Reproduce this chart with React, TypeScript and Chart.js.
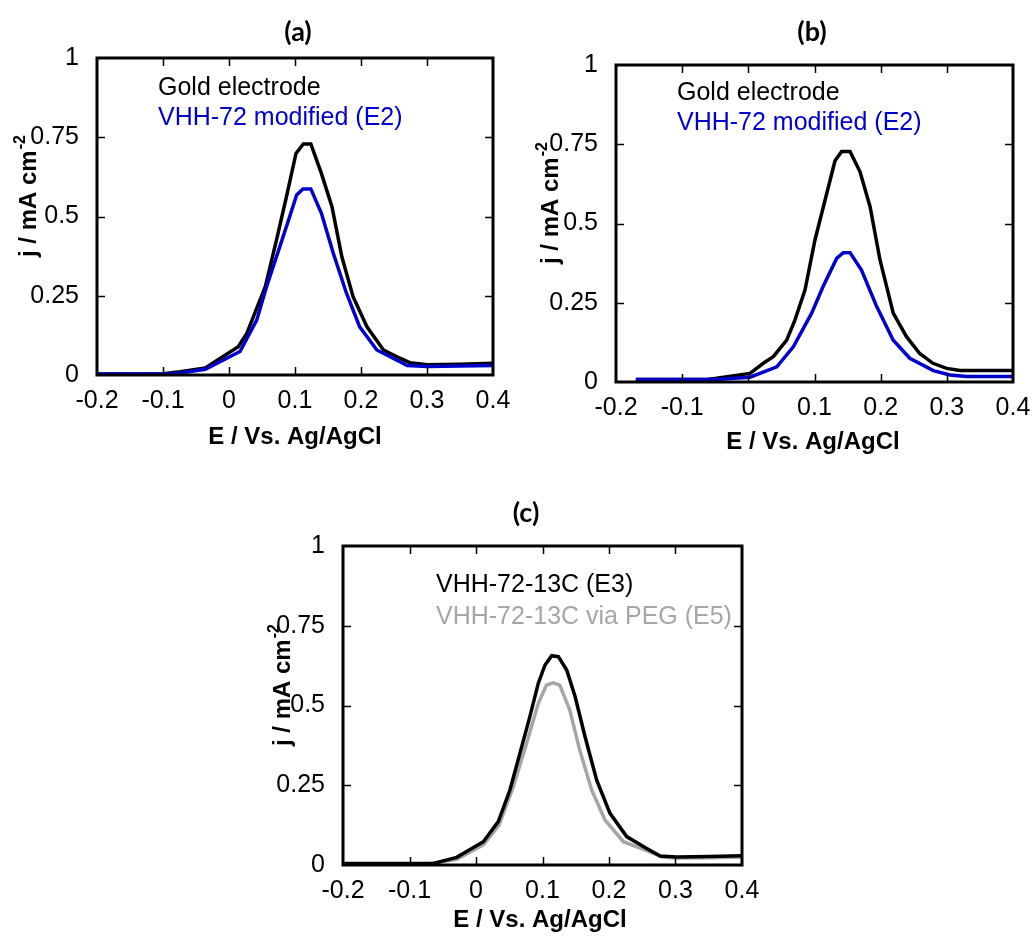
import React, { useEffect, useRef } from "react";
import { Chart, registerables } from "chart.js";

Chart.register(...registerables);

// ---------- data ----------
const xTickLabels = ["-0.2", "-0.1", "0", "0.1", "0.2", "0.3", "0.4"];
const yTickLabels = ["0", "0.25", "0.5", "0.75", "1"];

// Panel (a)
const aGoldE = [-0.2, -0.15, -0.1, -0.074, -0.036, 0.014, 0.027, 0.055, 0.072, 0.087, 0.1015, 0.1126, 0.124, 0.14, 0.156, 0.171, 0.188, 0.209, 0.234, 0.259, 0.274, 0.3, 0.35, 0.4];
const aGoldJ = [0.003, 0.003, 0.004, 0.01, 0.022, 0.089, 0.131, 0.279, 0.426, 0.562, 0.699, 0.729, 0.729, 0.636, 0.531, 0.373, 0.247, 0.152, 0.079, 0.053, 0.039, 0.032, 0.034, 0.037];
const aVhhE = [-0.2, -0.15, -0.1, -0.074, -0.036, 0.0167, 0.042, 0.057, 0.077, 0.092, 0.1025, 0.112, 0.124, 0.14, 0.158, 0.178, 0.198, 0.224, 0.259, 0.27, 0.3, 0.35, 0.4];
const aVhhJ = [0.003, 0.003, 0.003, 0.006, 0.018, 0.074, 0.173, 0.279, 0.405, 0.5, 0.568, 0.587, 0.587, 0.51, 0.384, 0.258, 0.152, 0.079, 0.042, 0.03, 0.027, 0.028, 0.03];

// Panel (b)
const bGoldE = [-0.17, -0.1, -0.06, -0.048, 0.0025, 0.0226, 0.0377, 0.058, 0.0705, 0.0856, 0.1007, 0.116, 0.131, 0.141, 0.1537, 0.1688, 0.184, 0.199, 0.219, 0.239, 0.259, 0.279, 0.2998, 0.32, 0.36, 0.4];
const bGoldJ = [0.008, 0.008, 0.009, 0.012, 0.027, 0.059, 0.08, 0.132, 0.196, 0.29, 0.448, 0.574, 0.698, 0.727, 0.727, 0.663, 0.553, 0.385, 0.217, 0.143, 0.09, 0.059, 0.043, 0.036, 0.036, 0.036];
const bVhhE = [-0.17, -0.1, -0.05, 0.0025, 0.043, 0.068, 0.0957, 0.113, 0.1335, 0.1435, 0.1537, 0.171, 0.194, 0.219, 0.244, 0.2796, 0.3048, 0.33, 0.4];
const bVhhJ = [0.008, 0.008, 0.008, 0.015, 0.048, 0.111, 0.217, 0.301, 0.39, 0.408, 0.408, 0.353, 0.238, 0.132, 0.075, 0.036, 0.022, 0.017, 0.017];

// Panel (c)
const cE3E = [-0.2, -0.1, -0.064, -0.029, 0.011, 0.0335, 0.051, 0.066, 0.081, 0.0937, 0.1038, 0.1138, 0.1238, 0.1364, 0.149, 0.164, 0.1815, 0.2015, 0.2266, 0.2567, 0.277, 0.302, 0.35, 0.4];
const cE3J = [0.005, 0.005, 0.005, 0.024, 0.073, 0.136, 0.235, 0.35, 0.465, 0.57, 0.627, 0.656, 0.653, 0.611, 0.528, 0.402, 0.266, 0.162, 0.089, 0.052, 0.028, 0.025, 0.027, 0.029];
const cE5E = [-0.2, -0.1, -0.07, -0.029, 0.011, 0.0346, 0.056, 0.076, 0.0937, 0.106, 0.116, 0.126, 0.141, 0.156, 0.174, 0.194, 0.2216, 0.2567, 0.28, 0.3, 0.35, 0.4];
const cE5J = [0.003, 0.003, 0.004, 0.018, 0.063, 0.125, 0.245, 0.381, 0.507, 0.564, 0.571, 0.564, 0.486, 0.36, 0.235, 0.141, 0.073, 0.045, 0.025, 0.022, 0.023, 0.025];

const innerXTicks = [-0.1, 0, 0.1, 0.2, 0.3];
const innerYTicks = [0.25, 0.5, 0.75];

const BLUE = "#0000CC";
const GREY = "#A6A6A6";
const BLACK = "#000000";
const SANS = "'Liberation Sans', Arial, sans-serif";

const zip = (xs: number[], ys: number[]) => xs.map((x, i) => ({ x, y: ys[i] }));

// ---------- decoration plugin ----------
const decorPlugin = {
  id: "decor",
  afterDraw(chart: any, _args: any, o: any) {
    const { ctx, chartArea: a, scales } = chart;
    const xs = scales.x;
    const ys = scales.y;
    ctx.save();
    // inward ticks
    ctx.strokeStyle = BLACK;
    ctx.lineWidth = 1.5;
    ctx.beginPath();
    for (const v of innerXTicks) {
      const px = Math.round(xs.getPixelForValue(v)) + 0.5;
      ctx.moveTo(px, a.bottom);
      ctx.lineTo(px, a.bottom - 8);
      ctx.moveTo(px, a.top);
      ctx.lineTo(px, a.top + 8);
    }
    for (const v of innerYTicks) {
      const py = Math.round(ys.getPixelForValue(v)) + 0.5;
      ctx.moveTo(a.left, py);
      ctx.lineTo(a.left + 8, py);
      ctx.moveTo(a.right, py);
      ctx.lineTo(a.right - 8, py);
    }
    ctx.stroke();
    // frame
    ctx.lineWidth = 3;
    ctx.strokeRect(a.left, a.top, a.right - a.left, a.bottom - a.top);

    // panel title
    ctx.fillStyle = BLACK;
    ctx.font = "bold 27px Lato, 'Open Sans', sans-serif";
    ctx.textAlign = "center";
    ctx.textBaseline = "middle";
    ctx.fillText(o.title, o.titleX, o.titleY);

    // x axis title
    ctx.font = `bold 24px ${SANS}`;
    ctx.fillText("E / Vs. Ag/AgCl", o.xTitleX, o.xTitleY);

    // y axis title with superscript
    ctx.save();
    ctx.translate(o.yTitleX, o.yTitleY);
    ctx.rotate(-Math.PI / 2);
    ctx.textAlign = "left";
    ctx.textBaseline = "alphabetic";
    ctx.font = `bold 24px ${SANS}`;
    const main = "j / mA cm";
    ctx.fillText(main, 0, 0);
    const w = ctx.measureText(main).width;
    ctx.font = `bold 16px ${SANS}`;
    ctx.fillText("-2", w + 1, -11);
    ctx.restore();

    // legend texts
    ctx.font = `25px ${SANS}`;
    ctx.textAlign = "left";
    ctx.textBaseline = "middle";
    o.legend.forEach((item: any, i: number) => {
      ctx.fillStyle = item.color;
      ctx.fillText(item.text, o.legendX, o.legendY[i]);
    });
    ctx.restore();
  },
};

type Panel = {
  left: number;
  top: number;
  width: number;
  height: number;
  plot: { l: number; t: number; r: number; b: number };
  datasets: { label: string; e: number[]; j: number[]; color: string }[];
  decor: any;
};

const panels: Panel[] = [
  {
    left: 0,
    top: 0,
    width: 520,
    height: 460,
    plot: { l: 97, t: 58, r: 493, b: 375 },
    datasets: [
      { label: "VHH-72 modified (E2)", e: aVhhE, j: aVhhJ, color: BLUE },
      { label: "Gold electrode", e: aGoldE, j: aGoldJ, color: BLACK },
    ],
    decor: {
      title: "(a)",
      titleX: 298,
      titleY: 32,
      xTitleX: 295,
      xTitleY: 437,
      yTitleX: 36,
      yTitleY: 257,
      legendX: 158,
      legendY: [88, 118],
      legend: [
        { text: "Gold electrode", color: BLACK },
        { text: "VHH-72 modified (E2)", color: BLUE },
      ],
    },
  },
  {
    left: 520,
    top: 0,
    width: 515,
    height: 460,
    plot: { l: 96, t: 65, r: 493, b: 382 },
    datasets: [
      { label: "VHH-72 modified (E2)", e: bVhhE, j: bVhhJ, color: BLUE },
      { label: "Gold electrode", e: bGoldE, j: bGoldJ, color: BLACK },
    ],
    decor: {
      title: "(b)",
      titleX: 292,
      titleY: 32,
      xTitleX: 293,
      xTitleY: 442,
      yTitleX: 38,
      yTitleY: 264,
      legendX: 157,
      legendY: [93, 123],
      legend: [
        { text: "Gold electrode", color: BLACK },
        { text: "VHH-72 modified (E2)", color: BLUE },
      ],
    },
  },
  {
    left: 250,
    top: 470,
    width: 530,
    height: 467,
    plot: { l: 93, t: 76, r: 492, b: 395 },
    datasets: [
      { label: "VHH-72-13C (E3)", e: cE3E, j: cE3J, color: BLACK },
      { label: "VHH-72-13C via PEG (E5)", e: cE5E, j: cE5J, color: GREY },
    ],
    decor: {
      title: "(c)",
      titleX: 276,
      titleY: 43,
      xTitleX: 290,
      xTitleY: 450,
      yTitleX: 40,
      yTitleY: 276,
      legendX: 186,
      legendY: [115, 147],
      legend: [
        { text: "VHH-72-13C (E3)", color: BLACK },
        { text: "VHH-72-13C via PEG (E5)", color: GREY },
      ],
    },
  },
];

function PanelChart({ p }: { p: Panel }) {
  const ref = useRef<HTMLCanvasElement>(null);
  useEffect(() => {
    if (!ref.current) return;
    const chart = new Chart(ref.current, {
      type: "line",
      data: {
        datasets: p.datasets.map((d) => ({
          label: d.label,
          data: zip(d.e, d.j),
          borderColor: d.color,
          backgroundColor: d.color,
          borderWidth: 3.5,
          pointRadius: 0,
          tension: 0,
          fill: false,
        })),
      },
      options: {
        animation: false,
        responsive: false,
        devicePixelRatio: 1,
        layout: {
          padding: { left: 0, top: p.plot.t, right: p.width - p.plot.r, bottom: 0 },
        },
        plugins: {
          legend: { display: false },
          tooltip: { enabled: false },
          title: { display: false },
          decor: p.decor,
        } as any,
        scales: {
          x: {
            type: "linear",
            min: -0.2,
            max: 0.4,
            grid: { display: false },
            border: { display: false },
            afterFit: (axis: any) => {
              axis.height = p.height - p.plot.b;
            },
            afterBuildTicks: (axis: any) => {
              axis.ticks = xTickLabels.map((t) => ({ value: parseFloat(t) }));
            },
            ticks: {
              padding: 3,
              color: BLACK,
              font: { family: SANS, size: 25 },
              maxRotation: 0,
              autoSkip: false,
              callback: (_v: any, i: number) => xTickLabels[i],
            },
          },
          y: {
            type: "linear",
            min: 0,
            max: 1,
            grid: { display: false },
            border: { display: false },
            afterFit: (axis: any) => {
              axis.width = p.plot.l;
            },
            afterBuildTicks: (axis: any) => {
              axis.ticks = yTickLabels.map((t) => ({ value: parseFloat(t) }));
            },
            ticks: {
              padding: 10,
              color: BLACK,
              font: { family: SANS, size: 25 },
              autoSkip: false,
              callback: (_v: any, i: number) => yTickLabels[i],
            },
          },
        },
      },
      plugins: [decorPlugin],
    });
    return () => chart.destroy();
  }, [p]);
  return (
    <canvas
      ref={ref}
      width={p.width}
      height={p.height}
      style={{ position: "absolute", left: p.left, top: p.top, width: p.width, height: p.height }}
    />
  );
}

export default function App() {
  return (
    <div style={{ position: "absolute", left: 0, top: 0, width: 1035, height: 937, background: "#fff" }}>
      {panels.map((p, i) => (
        <PanelChart key={i} p={p} />
      ))}
    </div>
  );
}
